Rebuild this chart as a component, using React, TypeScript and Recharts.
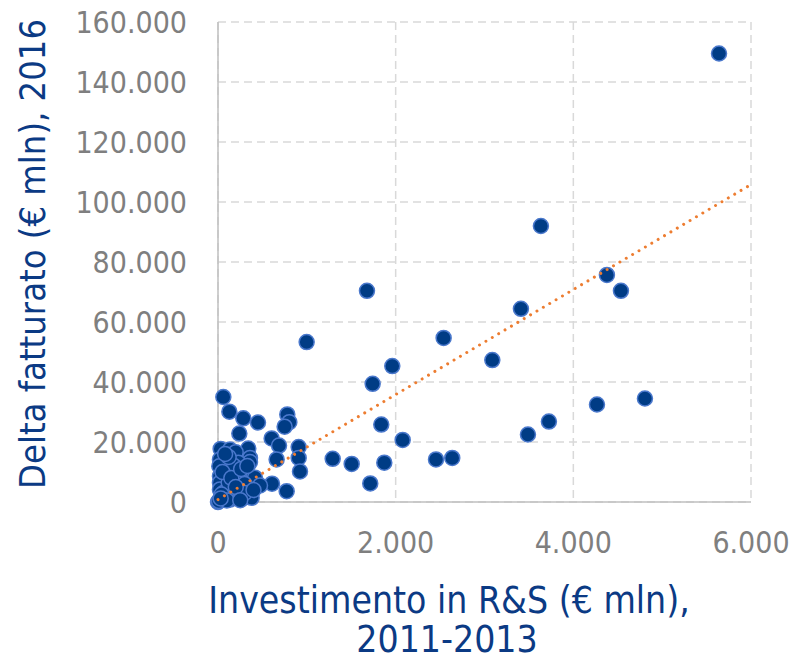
import { ScatterChart, Scatter, XAxis, YAxis, CartesianGrid } from 'recharts';

// Investimento in R&S 2011-2013 (€ mln)
const investRS = [
  5640, 3635, 4378, 4536, 1677, 3410, 2540, 998, 3088, 1962,
  1741, 60, 4806, 4266, 128, 780, 285, 3725, 803, 450,
  1838, 750, 240, 3489, 604, 2079, 687, 908, 341, 30,
  135, 199, 908, 360, 2637, 1291, 660, 2454, 22, 360,
  1872, 98, 229, 1505, 15, 172, 923, 323, 22, 416,
  248, 98, 22, 1714, 608, 473, 172, 22, 323, 773,
  360, 210, 285, 379, 22, 135, 0, 60, 100, 50,
  150, 80, 200, 120, 40, 10, 250, 300, 180, 50,
  150, 260, 300, 120, 80, 200, 330, 400, 100, 250,
  30,
];

// Delta fatturato 2016 (€ mln)
const deltaFatturato = [
  149500, 92000, 75700, 70400, 70400, 64400, 54700, 53300, 47300, 45300,
  39400, 35000, 34500, 32500, 30100, 29200, 27900, 26800, 26600, 26500,
  25800, 25100, 22800, 22500, 21200, 20700, 18800, 18300, 17800, 17700,
  17500, 16600, 14700, 14700, 14700, 14400, 14200, 14200, 14200, 13300,
  13100, 13100, 13100, 12700, 11900, 10800, 10200, 9700, 8600, 8100,
  7500, 7500, 6400, 6200, 6100, 5500, 5300, 4200, 4200, 3600,
  2500, 2500, 1400, 1400, 800, 800, 0, 3000, 2000, 1500,
  4000, 9500, 9000, 6500, 2500, 300, 3500, 6000, 12000, 10000,
  8000, 11000, 3000, 15000, 16000, 5000, 12000, 4000, 500, 600,
  1200,
];

// linea di tendenza (lineare)
const trendX = [0, 5970];
const trendY = [800, 105300];

const xTicks = [0, 2000, 4000, 6000];
const yTicks = [0, 20000, 40000, 60000, 80000, 100000, 120000, 140000, 160000];

const points = investRS.map((x, i) => ({ x, y: deltaFatturato[i] }));
const trend = trendX.map((x, i) => ({ x, y: trendY[i] }));

const fmt = (v: number) => String(v).replace(/\B(?=(\d{3})+(?!\d))/g, '.');

const FONT = '"DejaVu Sans Condensed", "DejaVu Sans", sans-serif';
const NAVY = '#0B3A84';

const YTitle = () => (
  <text x={45} y={254} transform="rotate(-90 45 254)" textAnchor="middle"
    fill={NAVY} fontSize={36} fontFamily={FONT}>
    Delta fatturato (€ mln), 2016
  </text>
);

const XTitle = () => (
  <text textAnchor="middle" fill={NAVY} fontSize={37} fontFamily={FONT}>
    <tspan x={449} y={613}>Investimento in R&amp;S (€ mln),</tspan>
    <tspan x={447} y={652}>2011-2013</tspan>
  </text>
);

const Dot = (p: any) => (
  <circle cx={p.cx} cy={p.cy} r={7.5} fill="#003C85" stroke="#4A78CC" strokeWidth={1.5} />
);

const Empty = () => <g />;

export default function App() {
  return (
    <div style={{ position: 'absolute', left: 0, top: 0, background: '#fff' }}>
      <ScatterChart width={789} height={662} margin={{ top: 22, right: 38, left: 0, bottom: 0 }}>
        <CartesianGrid stroke="#D9D9D9" strokeDasharray="8 5" strokeWidth={1.5} />
        <XAxis type="number" dataKey="x" domain={[0, 6000]} ticks={xTicks} tickFormatter={fmt}
          height={160} tickSize={0} tickMargin={30} stroke="#BFBFBF" strokeWidth={1.5}
          tick={{ fill: '#7F7F7F', fontSize: 30, fontFamily: FONT }} label={<XTitle />} />
        <YAxis type="number" dataKey="y" domain={[0, 160000]} ticks={yTicks} tickFormatter={fmt}
          width={218} tickSize={0} tickMargin={31} stroke="#BFBFBF" strokeWidth={1.5}
          tick={{ fill: '#7F7F7F', fontSize: 30, fontFamily: FONT }} label={<YTitle />} />
        <Scatter data={points} shape={Dot} isAnimationActive={false} />
        <Scatter data={trend} shape={Empty} line={{ stroke: '#ED7D31', strokeWidth: 3, strokeDasharray: '0.01 7.4', strokeLinecap: 'round' }}
          isAnimationActive={false} />
      </ScatterChart>
    </div>
  );
}
